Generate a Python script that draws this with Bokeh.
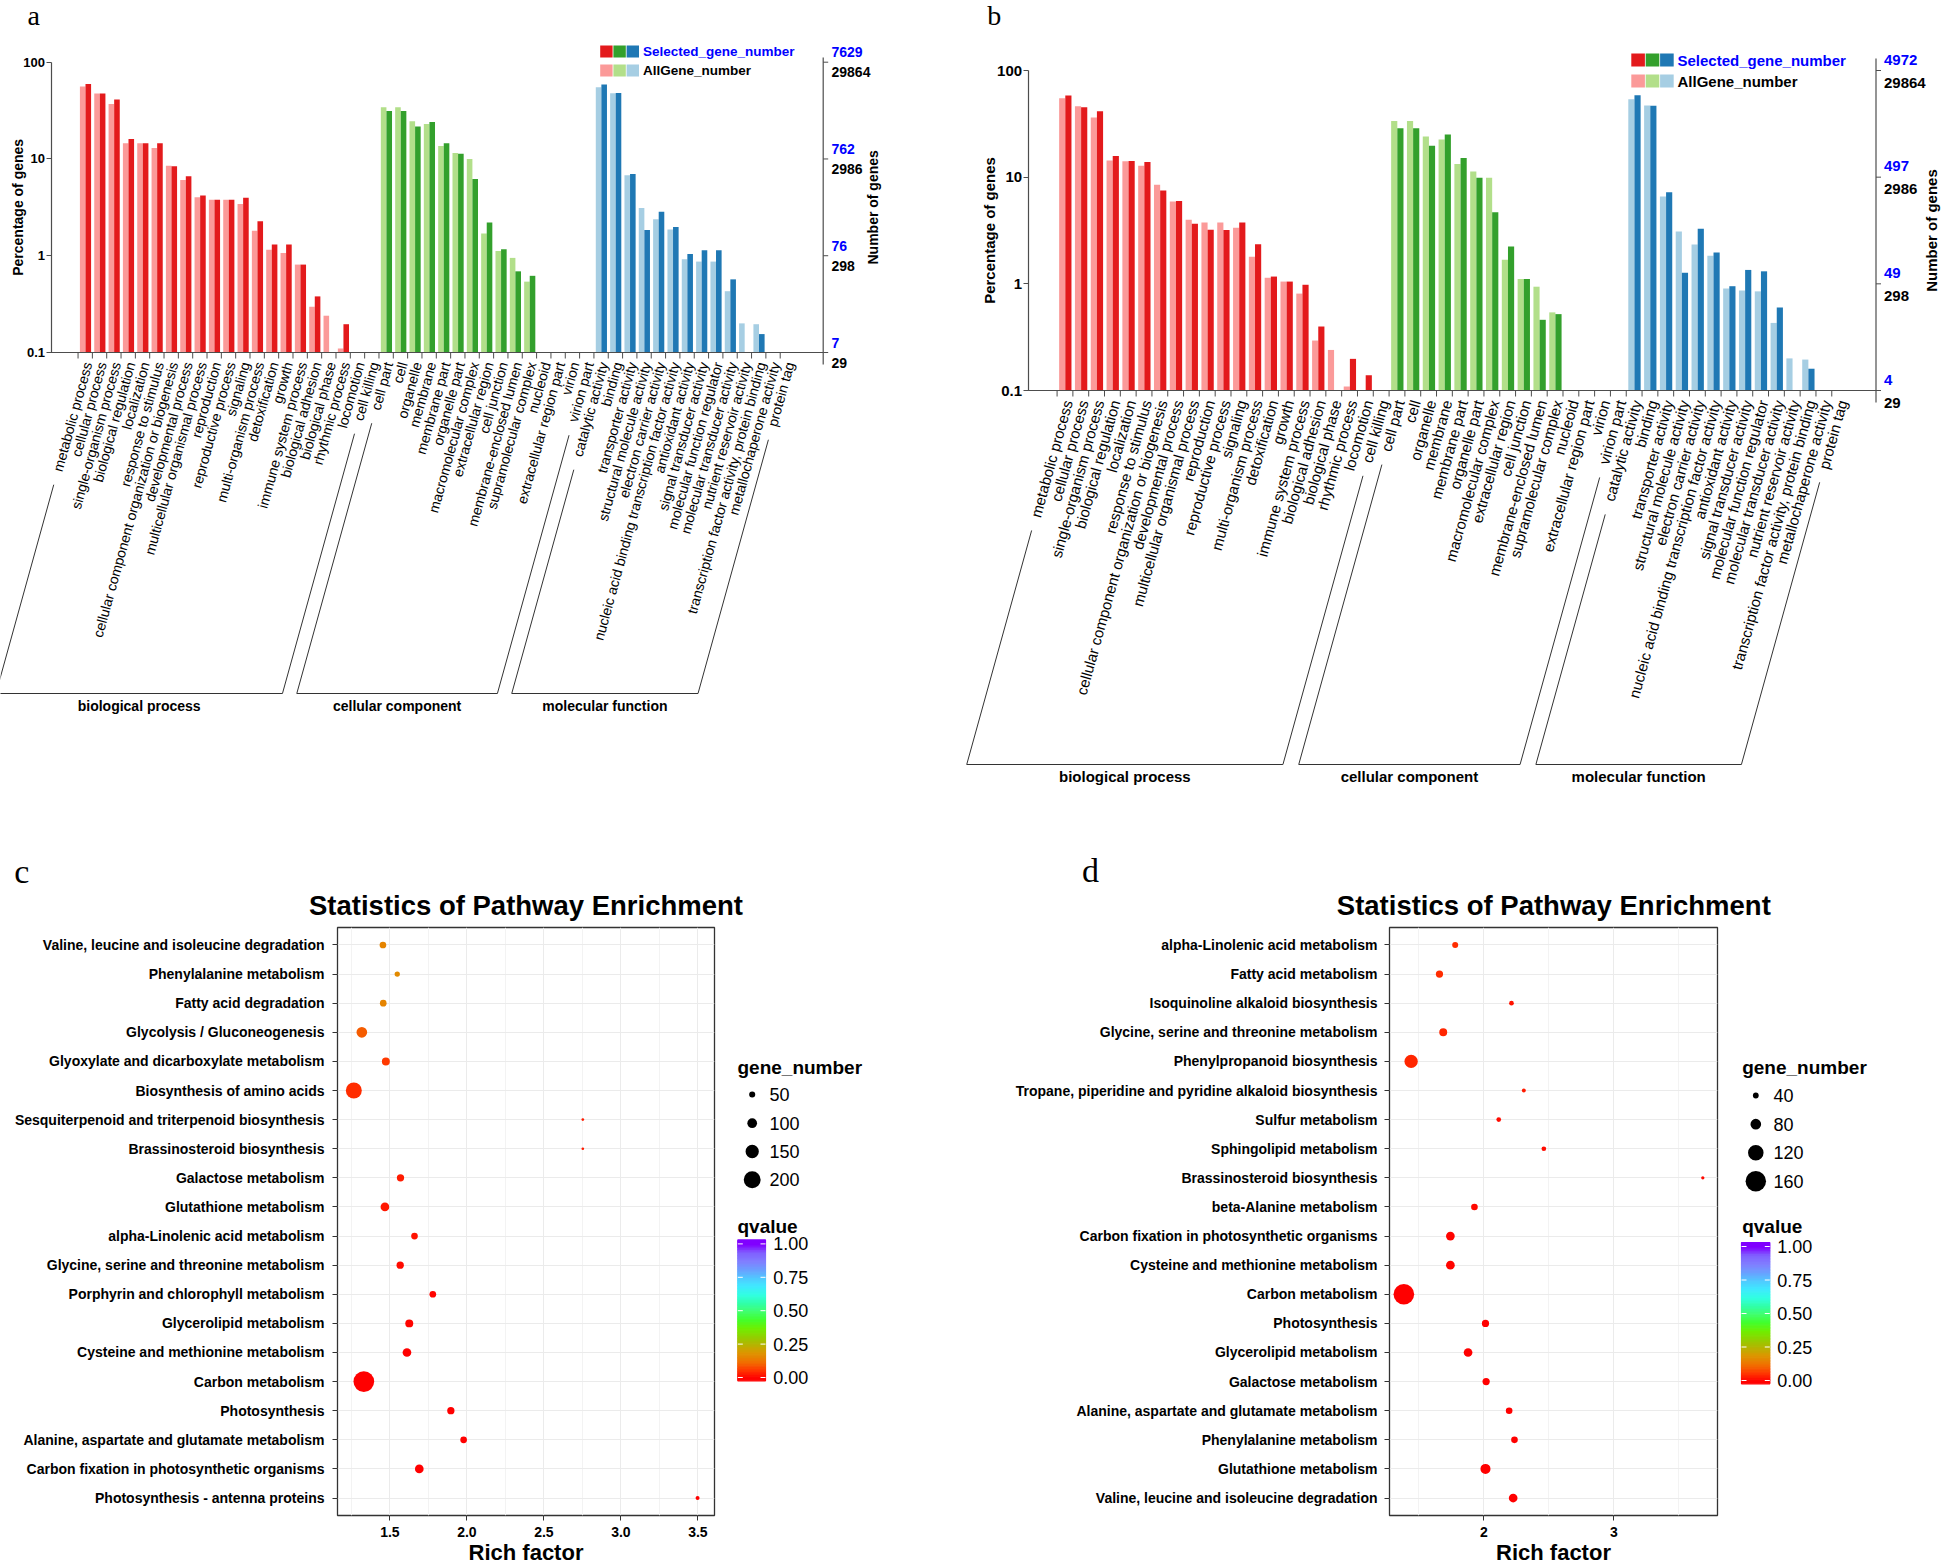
import math
from bokeh.plotting import figure
from bokeh.layouts import row, column
from bokeh.models import (Range1d, FactorRange, FixedTicker, PrintfTickFormatter,
                          LinearInterpolator, ColumnDataSource)
from bokeh.core.properties import value
from bokeh.transform import linear_cmap, transform
from bokeh.embed import file_html
from bokeh.resources import INLINE

# ======================= DATA =======================
go_bp = ["metabolic process", "cellular process", "single-organism process", "biological regulation",
         "localization", "response to stimulus", "cellular component organization or biogenesis",
         "developmental process", "multicellular organismal process", "reproduction",
         "reproductive process", "signaling", "multi-organism process", "detoxification", "growth",
         "immune system process", "biological adhesion", "biological phase", "rhythmic process",
         "locomotion", "cell killing"]
go_cc = ["cell part", "cell", "organelle", "membrane", "membrane part", "organelle part",
         "macromolecular complex", "extracellular region", "cell junction", "membrane-enclosed lumen",
         "supramolecular complex", "nucleoid", "extracellular region part", "virion", "virion part"]
go_mf = ["catalytic activity", "binding", "transporter activity", "structural molecule activity",
         "electron carrier activity", "nucleic acid binding transcription factor activity",
         "antioxidant activity", "signal transducer activity", "molecular function regulator",
         "molecular transducer activity", "nutrient reservoir activity",
         "transcription factor activity, protein binding", "metallochaperone activity", "protein tag"]
go_groups = ["biological process", "cellular component", "molecular function"]

# panel a (percentage of genes)
a_all_bp = [56, 47.4, 37, 14.5, 14.5, 13.0, 8.53, 6.06, 4.01, 3.8, 3.8, 3.42, 1.81, 1.15, 1.07,
            0.81, 0.297, 0.24, 0.11, 0, 0]
a_sel_bp = [59.7, 47.4, 41.1, 16.1, 14.5, 14.5, 8.4, 6.62, 4.18, 3.8, 3.8, 3.98, 2.27, 1.31, 1.31,
            0.81, 0.38, 0, 0.196, 0, 0]
a_all_cc = [34.2, 34.2, 24.5, 23.0, 13.6, 11.5, 10.0, 1.70, 1.12, 0.95, 0.54, 0, 0, 0, 0]
a_sel_cc = [31.4, 31.4, 21.6, 24.1, 14.5, 11.3, 6.2, 2.21, 1.17, 0.69, 0.62, 0, 0, 0, 0]
a_all_mf = [55.1, 47.8, 6.78, 3.11, 2.38, 1.87, 0.92, 0.87, 0.87, 0.43, 0.20, 0.196, 0, 0]
a_sel_mf = [58.7, 48.0, 7.0, 1.84, 2.85, 1.98, 1.04, 1.14, 1.14, 0.57, 0, 0.155, 0, 0]
a_sel_counts = ["7", "76", "762", "7629"]
a_all_counts = ["29", "298", "2986", "29864"]

# panel b
b_all_bp = [55, 46.3, 36.3, 14.3, 14.1, 12.8, 8.47, 5.91, 3.98, 3.76, 3.75, 3.35, 1.79, 1.14, 1.05,
            0.81, 0.294, 0.24, 0.109, 0, 0]
b_sel_bp = [58.3, 45.3, 41.5, 15.8, 14.2, 13.9, 7.5, 5.97, 3.65, 3.21, 3.2, 3.75, 2.35, 1.17, 1.05,
            0.98, 0.398, 0, 0.198, 0.139, 0]
b_all_cc = [33.7, 33.7, 24.0, 22.5, 13.3, 11.3, 9.86, 1.68, 1.11, 0.94, 0.54, 0, 0, 0, 0]
b_sel_cc = [28.8, 28.8, 19.7, 25.1, 15.1, 9.86, 4.7, 2.24, 1.11, 0.46, 0.52, 0, 0, 0, 0]
b_all_mf = [53.9, 47.0, 6.59, 3.09, 2.34, 1.83, 0.904, 0.866, 0.85, 0.43, 0.20, 0.195, 0, 0]
b_sel_mf = [58.7, 46.8, 7.23, 1.27, 3.28, 1.97, 0.95, 1.35, 1.31, 0.60, 0, 0.16, 0, 0]
b_sel_counts = ["4", "49", "497", "4972"]
b_all_counts = ["29", "298", "2986", "29864"]

pct_ticks = [0.1, 1, 10, 100]

# panel c (pathway enrichment)
c_paths = ["Valine, leucine and isoleucine degradation", "Phenylalanine metabolism",
           "Fatty acid degradation", "Glycolysis / Gluconeogenesis",
           "Glyoxylate and dicarboxylate metabolism", "Biosynthesis of amino acids",
           "Sesquiterpenoid and triterpenoid biosynthesis", "Brassinosteroid biosynthesis",
           "Galactose metabolism", "Glutathione metabolism", "alpha-Linolenic acid metabolism",
           "Glycine, serine and threonine metabolism", "Porphyrin and chlorophyll metabolism",
           "Glycerolipid metabolism", "Cysteine and methionine metabolism", "Carbon metabolism",
           "Photosynthesis", "Alanine, aspartate and glutamate metabolism",
           "Carbon fixation in photosynthetic organisms", "Photosynthesis - antenna proteins"]
c_rich = [1.455, 1.548, 1.457, 1.318, 1.474, 1.266, 2.753, 2.753, 1.569, 1.468, 1.660, 1.567,
          1.779, 1.626, 1.611, 1.331, 1.896, 1.979, 1.691, 3.498]
c_genes = [58, 39, 58, 114, 76, 187, 3, 3, 67, 86, 58, 67, 58, 76, 86, 253, 67, 58, 86, 21]
c_qvalue = [0.16, 0.17, 0.16, 0.10, 0.06, 0.05, 0.03, 0.03, 0.03, 0.025, 0.02, 0.015, 0.005,
            0.005, 0.003, 0.0, 0.002, 0.002, 0.001, 0.002]
c_size_legend = [50, 100, 150, 200]

# panel d
d_paths = ["alpha-Linolenic acid metabolism", "Fatty acid metabolism",
           "Isoquinoline alkaloid biosynthesis", "Glycine, serine and threonine metabolism",
           "Phenylpropanoid biosynthesis", "Tropane, piperidine and pyridine alkaloid biosynthesis",
           "Sulfur metabolism", "Sphingolipid metabolism", "Brassinosteroid biosynthesis",
           "beta-Alanine metabolism", "Carbon fixation in photosynthetic organisms",
           "Cysteine and methionine metabolism", "Carbon metabolism", "Photosynthesis",
           "Glycerolipid metabolism", "Galactose metabolism",
           "Alanine, aspartate and glutamate metabolism", "Phenylalanine metabolism",
           "Glutathione metabolism", "Valine, leucine and isoleucine degradation"]
d_rich = [1.780, 1.659, 2.213, 1.688, 1.441, 2.308, 2.115, 2.462, 3.685, 1.928, 1.743, 1.743,
          1.385, 2.013, 1.879, 2.018, 2.195, 2.236, 2.013, 2.226]
d_genes = [42, 52, 31, 58, 102, 25, 31, 31, 20, 47, 64, 64, 162, 52, 64, 52, 47, 47, 75, 64]
d_qvalue = [0.05, 0.05, 0.02, 0.04, 0.04, 0.03, 0.015, 0.015, 0.01, 0.01, 0.005, 0.005, 0.0,
            0.003, 0.003, 0.002, 0.002, 0.002, 0.001, 0.001]
d_size_legend = [40, 80, 120, 160]

q_ticks = [0.0, 0.25, 0.5, 0.75, 1.0]

# ======================= STYLE =======================
SANS = "Liberation Sans"
SERIF = "Liberation Serif"
LIGHT = ["#FB9A99", "#B2DF8A", "#A6CEE3"]
DARK = ["#E31A1C", "#33A02C", "#1F78B4"]
AXIS_GREY = "#4D4D4D"
ANG = math.radians(74.5)

Q_ANCHORS = [(0.0, "#FF0000"), (0.06, "#FF3A00"), (0.12, "#F07000"), (0.19, "#DC9600"),
             (0.25, "#B4B400"), (0.31, "#90D000"), (0.37, "#70EE00"), (0.44, "#40FF30"),
             (0.5, "#40FF70"), (0.56, "#30FFA8"), (0.62, "#30FFE0"), (0.69, "#40E8FF"),
             (0.75, "#50C8FF"), (0.81, "#6AA0FF"), (0.87, "#8080FF"), (0.94, "#8060FF"),
             (1.0, "#8000FF")]


def build_palette(n=256):
    out = []
    for k in range(n):
        t = k / (n - 1)
        for (p0, c0), (p1, c1) in zip(Q_ANCHORS[:-1], Q_ANCHORS[1:]):
            if p0 <= t <= p1:
                f = (t - p0) / (p1 - p0)
                r0, g0, b0 = int(c0[1:3], 16), int(c0[3:5], 16), int(c0[5:7], 16)
                r1, g1, b1 = int(c1[1:3], 16), int(c1[3:5], 16), int(c1[5:7], 16)
                out.append("#%02X%02X%02X" % (round(r0 + f * (r1 - r0)), round(g0 + f * (g1 - g0)),
                                              round(b0 + f * (b1 - b0))))
                break
    return out


PALETTE = build_palette()

AW = {'a': .556, 'b': .556, 'c': .5, 'd': .556, 'e': .556, 'f': .278, 'g': .556, 'h': .556,
      'i': .222, 'j': .222, 'k': .5, 'l': .222, 'm': .833, 'n': .556, 'o': .556, 'p': .556,
      'q': .556, 'r': .333, 's': .5, 't': .278, 'u': .556, 'v': .5, 'w': .722, 'x': .5, 'y': .5,
      'z': .5, ' ': .278, '-': .333, ',': .278}


def text_w(s, fs):
    return sum(AW.get(ch, 0.556) for ch in s) * fs


def no_align(f):
    try:
        f.frame_align = False
    except Exception:
        pass
    return f


# geometry in page pixels (the page has no body margin)
GEOM_A = dict(ox=0, oy=0, w=936, h=840, fl=50.5, cx0=85.0, dx=14.33, y100=61.7, y01=352.0,
              rx=822.7, r_top=57, r_bot=364, leg_x=599.7, leg_sq=13.2, leg_sqh=12,
              leg_y=(51, 70), leg_tx=642.4, leg_fs=13.5, rl_x=831, rl_fs=14, rl_dy=(-10, 10),
              ng_x=872, ng_fs=14, pg_x=17.5, letter=(27, 15), lab_fs=14, br_y=693, gl_y=705,
              gl_fs=14, ax_fs=13, pg_fs=14)
GEOM_B = dict(ox=936, oy=0, w=1008, h=840, fl=1027.6, cx0=1064.8, dx=15.81, y100=70.0,
              y01=390.0, rx=1875.5, r_top=58, r_bot=402, leg_x=1630.8, leg_sq=14.4, leg_sqh=13,
              leg_y=(59.5, 80.5), leg_tx=1677, leg_fs=15, rl_x=1883.5, rl_fs=15,
              rl_dy=(-11, 12), ng_x=1931, ng_fs=15, pg_x=988.5, letter=(986.7, 15), lab_fs=15,
              br_y=764, gl_y=776, gl_fs=15, ax_fs=15, pg_fs=15)


def go_panel(letter, all_vals, sel_vals, sel_counts, all_counts, g):
    ox, oy, W, H = g["ox"], g["oy"], g["w"], g["h"]
    fl, cx0, dx = g["fl"], g["cx0"], g["dx"]
    y100, y01 = g["y100"], g["y01"]
    ppd = (y01 - y100) / 3.0

    def ux(X):
        return (X - cx0) / dx

    def ly(Y):
        return 0.1 * 10 ** ((y01 - Y) / ppd)

    p = figure(width=W, height=H, x_range=Range1d(ux(ox), ux(ox + W)),
               y_range=Range1d(ly(oy + H), ly(oy)), y_axis_type="log",
               x_axis_location=None, toolbar_location=None, output_backend="svg",
               min_border=0)
    no_align(p)
    p.outline_line_color = None
    p.grid.visible = False
    ax = p.yaxis[0]
    ax.fixed_location = ux(fl)
    ax.ticker = FixedTicker(ticks=pct_ticks)
    ax.formatter = PrintfTickFormatter(format="%g")
    ax.bounds = (0.1, 100)
    ax.major_label_text_font = SANS
    ax.major_label_text_font_style = "bold"
    ax.major_label_text_font_size = "%dpx" % g["ax_fs"]
    ax.major_label_text_color = "black"
    ax.major_label_standoff = 1
    ax.major_tick_out = 5
    ax.major_tick_in = 0
    ax.major_tick_line_color = AXIS_GREY
    ax.minor_tick_line_color = None
    ax.axis_line_color = AXIS_GREY
    ax.axis_line_width = 1.2
    p.text(x=[ux(g["pg_x"])], y=[ly((y100 + y01) / 2)], text=["Percentage of genes"],
           angle=math.pi / 2, text_align="center", text_baseline="middle", text_font=value(SANS),
           text_font_style="bold", text_font_size="%dpx" % g["pg_fs"], text_color="black")

    cats = go_bp + go_cc + go_mf
    grp = [0] * len(go_bp) + [1] * len(go_cc) + [2] * len(go_mf)
    n = len(cats)
    bw = 0.39

    all_src = ColumnDataSource(dict(
        x=[i - bw / 2 for i, v in enumerate(all_vals) if v > 0],
        top=[v for v in all_vals if v > 0],
        color=[LIGHT[grp[i]] for i, v in enumerate(all_vals) if v > 0]))
    sel_src = ColumnDataSource(dict(
        x=[i + bw / 2 for i, v in enumerate(sel_vals) if v > 0],
        top=[v for v in sel_vals if v > 0],
        color=[DARK[grp[i]] for i, v in enumerate(sel_vals) if v > 0]))
    p.vbar(x="x", top="top", bottom=0.1, width=bw, fill_color="color", line_color=None,
           source=all_src)
    p.vbar(x="x", top="top", bottom=0.1, width=bw, fill_color="color", line_color=None,
           source=sel_src)

    # x axis line and ticks
    rx = g["rx"]
    p.segment(x0=[ux(fl)], y0=[0.1], x1=[ux(rx)], y1=[0.1], line_color=AXIS_GREY, line_width=1.2)
    tx = [i - 0.52 for i in range(n)]
    p.segment(x0=tx, y0=[0.1] * n, x1=tx, y1=[ly(y01 + 6)] * n, line_color=AXIS_GREY,
              line_width=1)

    # category labels
    Ya = y01 + 10
    p.text(x=[i + 0.15 for i in range(n)], y=[ly(Ya)] * n, text=cats, angle=ANG,
           text_align="right", text_baseline="middle", text_font=value(SANS),
           text_font_size="%dpx" % g["lab_fs"], text_color="black")

    # group brackets
    ca, sa = math.cos(ANG), math.sin(ANG)
    Yb = g["br_y"]
    spans = [(0, len(go_bp) - 1), (len(go_bp), len(go_bp) + len(go_cc) - 1),
             (len(go_bp) + len(go_cc), n - 1)]
    sx0s, sy0s, sx1s, sy1s = [], [], [], []
    gl_x, gl_y, gl_t = [], [], []
    for gi, (i0, i1) in enumerate(spans):
        ends = []
        for i in (i0, i1):
            Xa = cx0 + (i + 0.15) * dx
            L = text_w(cats[i], g["lab_fs"]) + 14
            t_end = (Yb - Ya) / sa
            sx0s.append(ux(Xa - L * ca)); sy0s.append(ly(Ya + L * sa))
            ex = Xa - t_end * ca
            sx1s.append(ux(ex)); sy1s.append(ly(Yb))
            ends.append(ex)
        sx0s.append(ux(ends[0])); sy0s.append(ly(Yb))
        sx1s.append(ux(ends[1])); sy1s.append(ly(Yb))
        gl_x.append(ux((ends[0] + ends[1]) / 2))
        gl_y.append(ly(g["gl_y"]))
        gl_t.append(go_groups[gi])
    p.segment(x0=sx0s, y0=sy0s, x1=sx1s, y1=sy1s, line_color="#333333", line_width=1)
    p.text(x=gl_x, y=gl_y, text=gl_t, text_align="center", text_baseline="middle",
           text_font=value(SANS), text_font_style="bold", text_font_size="%dpx" % g["gl_fs"],
           text_color="black")

    # right axis (number of genes)
    p.segment(x0=[ux(rx)], y0=[ly(g["r_top"])], x1=[ux(rx)], y1=[ly(g["r_bot"])],
              line_color=AXIS_GREY, line_width=1.2)
    p.segment(x0=[ux(rx)] * 4, y0=pct_ticks, x1=[ux(rx + 5)] * 4, y1=pct_ticks,
              line_color=AXIS_GREY, line_width=1)
    tick_px = [y01 - math.log10(v / 0.1) * ppd for v in pct_ticks]
    p.text(x=[ux(g["rl_x"])] * 4, y=[ly(t + g["rl_dy"][0]) for t in tick_px], text=sel_counts,
           text_align="left", text_baseline="middle", text_font=value(SANS),
           text_font_style="bold", text_font_size="%dpx" % g["rl_fs"], text_color="#0000FF")
    p.text(x=[ux(g["rl_x"])] * 4, y=[ly(t + g["rl_dy"][1]) for t in tick_px], text=all_counts,
           text_align="left", text_baseline="middle", text_font=value(SANS),
           text_font_style="bold", text_font_size="%dpx" % g["rl_fs"], text_color="black")
    p.text(x=[ux(g["ng_x"])], y=[ly((y100 + y01) / 2)], text=["Number of genes"],
           angle=math.pi / 2, text_align="center", text_baseline="middle", text_font=value(SANS),
           text_font_style="bold", text_font_size="%dpx" % g["ng_fs"], text_color="black")

    # legend
    lx, sq, sqh = g["leg_x"], g["leg_sq"], g["leg_sqh"]
    for row_i, cols in enumerate((DARK, LIGHT)):
        yc = g["leg_y"][row_i]
        p.quad(left=[ux(lx + k * sq) for k in range(3)],
               right=[ux(lx + (k + 1) * sq - 0.8) for k in range(3)],
               top=[ly(yc - sqh / 2)] * 3, bottom=[ly(yc + sqh / 2)] * 3, fill_color=cols,
               line_color=None)
    p.text(x=[ux(g["leg_tx"])] * 2, y=[ly(g["leg_y"][0]), ly(g["leg_y"][1])],
           text=["Selected_gene_number", "AllGene_number"], text_align="left",
           text_baseline="middle", text_font=value(SANS), text_font_style="bold",
           text_font_size="%gpx" % g["leg_fs"], text_color=["#0000FF", "black"])

    # panel letter
    p.text(x=[ux(g["letter"][0])], y=[ly(g["letter"][1])], text=[letter], text_align="left",
           text_baseline="middle", text_font=value(SERIF), text_font_size="28px",
           text_color="black")
    return p


TOP_Y = 840      # top of bottom row (page px)
HDR_H = 85
BOT_Y = 1567
FRAME_TOP = 927
FRAME_BOT = 1516

GEOM_C = dict(x0=0, hw=990, pw=718, fl=337, xr=(1.160, 3.608), xt=[1.5, 2, 2.5, 3, 3.5],
              xm=[1.25, 1.75, 2.25, 2.75, 3.25], xfmt="%.1f", ystand=8, letter=(13.7, 871),
              title_x=525.5, size_x=[0, 300], size_y=[2.5, 24.1], gn_title=(737, 1066.5),
              dot_x=751.7, dot_y=[1094, 1122.7, 1151, 1179.3], lab_x=769, q_title=(737, 1226),
              cb_x=(737.3, 765), cb_v0=1377, cb_span=133.6, cb_lab_x=772.7)
GEOM_D = dict(x0=990, hw=954, pw=731, fl=1389, xr=(1.2746, 3.798), xt=[2, 3],
              xm=[1.5, 2.5, 3.5], xfmt="%d", ystand=7, letter=(1081.6, 870), title_x=1553.3,
              size_x=[0, 200], size_y=[0.9, 25.3], gn_title=(1741.7, 1066.5), dot_x=1755.3,
              dot_y=[1095, 1123.7, 1152.3, 1180.7], lab_x=1773, q_title=(1741.7, 1226),
              cb_x=(1741, 1769.3), cb_v0=1380, cb_span=134, cb_lab_x=1776.7)


def blank_fig(w, h, xr, yr):
    f = figure(width=w, height=h, x_range=Range1d(*xr), y_range=Range1d(*yr),
               x_axis_location=None, y_axis_location=None, toolbar_location=None,
               output_backend="svg", min_border=0)
    no_align(f)
    f.outline_line_color = None
    f.grid.visible = False
    return f


def enrich_panel(letter, paths, rich, genes, qv, size_leg, g):
    x0, hw, pw = g["x0"], g["hw"], g["pw"]
    hdr = blank_fig(hw, HDR_H, (x0, x0 + hw), (TOP_Y + HDR_H, TOP_Y))
    hdr.text(x=[g["letter"][0]], y=[g["letter"][1]], text=[letter], text_align="left",
             text_baseline="middle", text_font=value(SERIF), text_font_size="34px",
             text_color="black")
    hdr.text(x=[g["title_x"]], y=[905], text=["Statistics of Pathway Enrichment"],
             text_align="center", text_baseline="middle", text_font=value(SANS),
             text_font_style="bold", text_font_size="27.5px", text_color="black")

    ph = BOT_Y - (TOP_Y + HDR_H)
    p = figure(width=pw, height=ph, x_range=Range1d(*g["xr"]),
               y_range=FactorRange(factors=paths[::-1], range_padding=0.1,
                                   range_padding_units="absolute"),
               toolbar_location=None, output_backend="svg",
               min_border_left=int(round(g["fl"] - x0)), min_border_right=4,
               min_border_top=FRAME_TOP - (TOP_Y + HDR_H), min_border_bottom=BOT_Y - FRAME_BOT)
    no_align(p)
    src = ColumnDataSource(dict(rich=rich, path=paths, n=genes, q=qv))
    size_map = LinearInterpolator(x=g["size_x"], y=g["size_y"])
    p.scatter(x="rich", y="path", size=transform("n", size_map),
              fill_color=linear_cmap("q", PALETTE, 0, 1), line_color=None, source=src)
    ticker = FixedTicker(ticks=g["xt"], minor_ticks=g["xm"])
    p.xaxis.ticker = ticker
    p.xgrid.ticker = ticker
    p.xaxis.formatter = PrintfTickFormatter(format=g["xfmt"])
    p.xaxis.axis_label = "Rich factor"
    for axis in (p.xaxis[0], p.yaxis[0]):
        axis.axis_line_color = None
        axis.major_tick_line_color = "#333333"
        axis.major_tick_out = 5
        axis.major_tick_in = 0
        axis.minor_tick_line_color = None
        axis.major_label_text_font = SANS
        axis.major_label_text_font_style = "bold"
        axis.major_label_text_font_size = "14px"
        axis.major_label_text_color = "black"
    p.yaxis.major_label_standoff = g["ystand"]
    p.xaxis.major_label_standoff = 6
    p.xaxis.axis_label_text_font = SANS
    p.xaxis.axis_label_text_font_style = "bold"
    p.xaxis.axis_label_text_font_size = "22px"
    p.xaxis.axis_label_text_color = "black"
    p.xaxis.axis_label_standoff = 0
    p.xgrid.grid_line_color = "#EBEBEB"
    p.xgrid.minor_grid_line_color = "#F3F3F3"
    p.ygrid.grid_line_color = "#EBEBEB"
    p.outline_line_color = "#333333"
    p.outline_line_width = 1.3

    # legend area
    lx0 = x0 + pw
    leg = blank_fig(hw - pw, ph, (lx0, x0 + hw), (BOT_Y, TOP_Y + HDR_H))
    leg.text(x=[g["gn_title"][0], g["q_title"][0]], y=[g["gn_title"][1], g["q_title"][1]],
             text=["gene_number", "qvalue"], text_align="left", text_baseline="middle",
             text_font=value(SANS), text_font_style="bold", text_font_size="19px",
             text_color="black")
    lsrc = ColumnDataSource(dict(x=[g["dot_x"]] * len(size_leg), y=g["dot_y"], n=size_leg))
    leg.scatter(x="x", y="y", size=transform("n", size_map), fill_color="black",
                line_color=None, source=lsrc)
    leg.text(x=[g["lab_x"]] * len(size_leg), y=g["dot_y"], text=[str(s) for s in size_leg],
             text_align="left", text_baseline="middle", text_font=value(SANS),
             text_font_size="18px", text_color="black")
    # colour bar
    cb0, cb1 = g["cb_x"]
    v0, span = g["cb_v0"], g["cb_span"]
    nseg = 90
    vlo, vhi = -0.025, 1.03
    vs = [vlo + (vhi - vlo) * k / nseg for k in range(nseg + 1)]
    cbsrc = ColumnDataSource(dict(bottom=[v0 - v * span for v in vs[:-1]],
                                  top=[v0 - v * span for v in vs[1:]],
                                  q=[(a + b) / 2 for a, b in zip(vs[:-1], vs[1:])]))
    cmap = linear_cmap("q", PALETTE, 0, 1)
    leg.quad(left=cb0, right=cb1, bottom="bottom", top="top", fill_color=cmap,
             line_color=cmap, line_width=1.2, source=cbsrc)
    ty = [v0 - v * span for v in q_ticks]
    leg.segment(x0=[cb0] * 5, y0=ty, x1=[cb0 + 5] * 5, y1=ty, line_color="white", line_width=1)
    leg.segment(x0=[cb1 - 5] * 5, y0=ty, x1=[cb1] * 5, y1=ty, line_color="white", line_width=1)
    leg.text(x=[g["cb_lab_x"]] * 5, y=ty, text=["%.2f" % v for v in q_ticks], text_align="left",
             text_baseline="middle", text_font=value(SANS), text_font_size="18px",
             text_color="black")
    return column(hdr, row(p, leg))


pa = go_panel("a", a_all_bp + a_all_cc + a_all_mf, a_sel_bp + a_sel_cc + a_sel_mf,
              a_sel_counts, a_all_counts, GEOM_A)
pb = go_panel("b", b_all_bp + b_all_cc + b_all_mf, b_sel_bp + b_sel_cc + b_sel_mf,
              b_sel_counts, b_all_counts, GEOM_B)
pc = enrich_panel("c", c_paths, c_rich, c_genes, c_qvalue, c_size_legend, GEOM_C)
pd = enrich_panel("d", d_paths, d_rich, d_genes, d_qvalue, d_size_legend, GEOM_D)

layout = column(row(pa, pb), row(pc, pd))

open("out.html", "w").write(file_html(layout, INLINE))
